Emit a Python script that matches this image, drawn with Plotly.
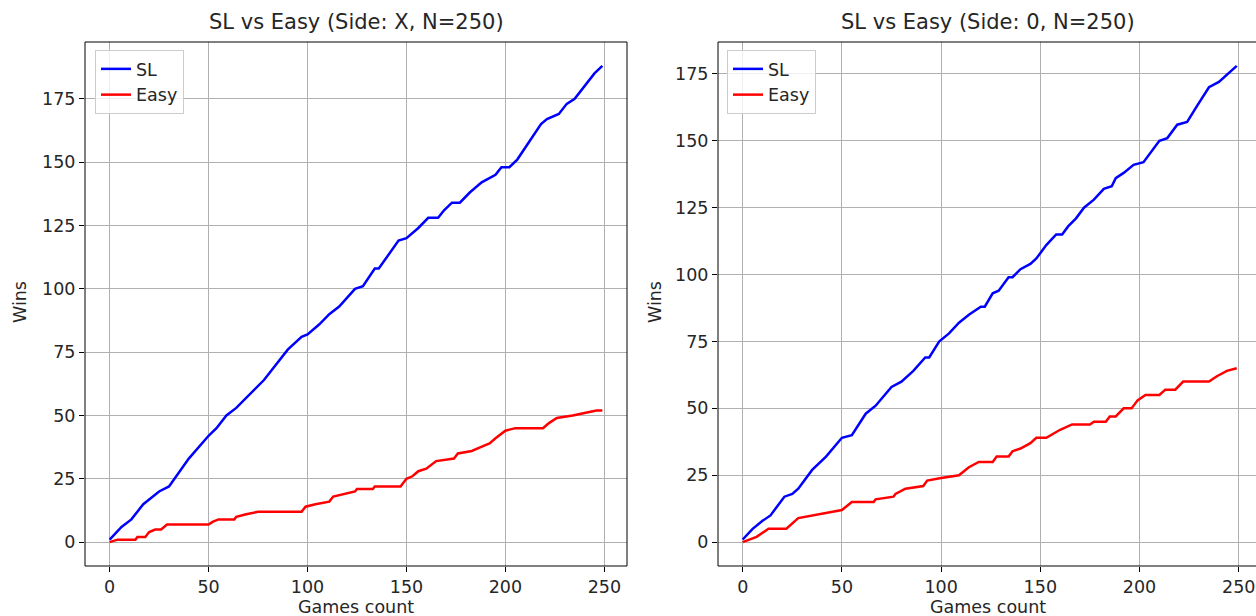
import plotly.graph_objects as go

# ---- data (game index, cumulative wins) ----
x_sl_games = [0, 6, 11, 17, 25, 30, 40, 50, 54, 59, 64, 69, 74, 78, 90, 97, 100, 106, 111, 116, 124, 128,
              134, 136, 146, 150, 156, 161, 166, 169, 173, 177, 182, 188, 195, 198, 202, 206, 218, 221,
              227, 231, 235, 239, 245, 249]
x_sl_wins = [1, 6, 9, 15, 20, 22, 33, 42, 45, 50, 53, 57, 61, 64, 76, 81, 82, 86, 90, 93, 100, 101,
             108, 108, 119, 120, 124, 128, 128, 131, 134, 134, 138, 142, 145, 148, 148, 151, 165, 167,
             169, 173, 175, 179, 185, 188]

x_easy_games = [0, 4, 13, 14, 18, 20, 23, 26, 29, 50, 52, 55, 63, 64, 69, 75, 97, 99, 104, 111, 113, 119,
                124, 125, 133, 134, 147, 150, 153, 156, 160, 165, 174, 176, 183, 189, 192, 195, 200, 205,
                219, 222, 226, 234, 241, 246, 249]
x_easy_wins = [0, 1, 1, 2, 2, 4, 5, 5, 7, 7, 8, 9, 9, 10, 11, 12, 12, 14, 15, 16, 18, 19,
               20, 21, 21, 22, 22, 25, 26, 28, 29, 32, 33, 35, 36, 38, 39, 41, 44, 45,
               45, 47, 49, 50, 51, 52, 52]

o_sl_games = [0, 5, 10, 14, 21, 25, 28, 35, 42, 50, 55, 62, 67, 75, 80, 86, 92, 94, 99, 104, 109, 114,
              120, 122, 126, 129, 134, 136, 140, 145, 148, 153, 158, 161, 164, 168, 172, 177, 182, 186,
              188, 192, 197, 202, 210, 214, 219, 224, 229, 235, 240, 243, 246, 249]
o_sl_wins = [1, 5, 8, 10, 17, 18, 20, 27, 32, 39, 40, 48, 51, 58, 60, 64, 69, 69, 75, 78, 82, 85,
             88, 88, 93, 94, 99, 99, 102, 104, 106, 111, 115, 115, 118, 121, 125, 128, 132, 133,
             136, 138, 141, 142, 150, 151, 156, 157, 163, 170, 172, 174, 176, 178]

o_easy_games = [0, 7, 13, 22, 28, 36, 42, 50, 55, 66, 67, 76, 77, 82, 91, 93, 100, 109, 114, 119, 126, 128,
                134, 136, 140, 145, 148, 153, 160, 166, 175, 177, 183, 185, 188, 192, 196, 199, 203, 210,
                213, 218, 222, 235, 239, 244, 249]
o_easy_wins = [0, 2, 5, 5, 9, 10, 11, 12, 15, 15, 16, 17, 18, 20, 21, 23, 24, 25, 28, 30, 30, 32,
               32, 34, 35, 37, 39, 39, 42, 44, 44, 45, 45, 47, 47, 50, 50, 53, 55, 55,
               57, 57, 60, 60, 62, 64, 65]

titles = ["SL vs Easy (Side: X, N=250)", "SL vs Easy (Side: 0, N=250)"]
x_tickvals = [0, 50, 100, 150, 200, 250]
y_tickvals = [0, 25, 50, 75, 100, 125, 150, 175]

W, H = 1256, 616
FONT = "DejaVu Sans"
TXT = "#262626"
FS = 17.5

def px_x(p):
    return p / W

def px_y(p):
    return (H - p) / H

fig = go.Figure()

line_w = 2.5
fig.add_trace(go.Scatter(x=x_sl_games, y=x_sl_wins, mode="lines", name="SL",
                         line=dict(color="#0000ff", width=line_w), xaxis="x", yaxis="y", legend="legend"))
fig.add_trace(go.Scatter(x=x_easy_games, y=x_easy_wins, mode="lines", name="Easy",
                         line=dict(color="#ff0000", width=line_w), xaxis="x", yaxis="y", legend="legend"))
fig.add_trace(go.Scatter(x=o_sl_games, y=o_sl_wins, mode="lines", name="SL",
                         line=dict(color="#0000ff", width=line_w), xaxis="x2", yaxis="y2", legend="legend2"))
fig.add_trace(go.Scatter(x=o_easy_games, y=o_easy_wins, mode="lines", name="Easy",
                         line=dict(color="#ff0000", width=line_w), xaxis="x2", yaxis="y2", legend="legend2"))

axis_common = dict(showgrid=True, gridcolor="#b0b0b0", gridwidth=1, zeroline=False,
                   ticks="outside", ticklen=5, tickwidth=1, tickcolor="black",
                   tickfont=dict(family=FONT, size=FS, color=TXT),
                   showline=False, automargin=False)

y_dom = [px_y(566), px_y(42)]

legend_common = dict(xanchor="left", yanchor="top",
                     bgcolor="rgba(255,255,255,0.8)", bordercolor="#cccccc", borderwidth=1,
                     font=dict(family=FONT, size=FS, color=TXT), tracegroupgap=0, itemwidth=30)

fig.update_layout(
    width=W, height=H,
    margin=dict(l=0, r=0, t=0, b=0),
    paper_bgcolor="white", plot_bgcolor="white",
    font=dict(family=FONT, color=TXT),
    xaxis=dict(domain=[px_x(85), px_x(627)], range=[-12.45, 261.45], tickvals=x_tickvals,
               anchor="y", **axis_common),
    yaxis=dict(domain=y_dom, range=[-9.4, 197.4], tickvals=y_tickvals, anchor="x", **axis_common),
    xaxis2=dict(domain=[px_x(718), 1.0], range=[-12.45, 258.7], tickvals=x_tickvals,
                anchor="y2", **axis_common),
    yaxis2=dict(domain=y_dom, range=[-8.9, 186.9], tickvals=y_tickvals, anchor="x2", **axis_common),
    legend=dict(x=px_x(95), y=px_y(50), **legend_common),
    legend2=dict(x=px_x(727), y=px_y(50), **legend_common),
    showlegend=True,
)

# axes frames (right frame of 2nd subplot runs off the page like the reference)
for xr, yr, x1 in [("x domain", "y domain", 1.0), ("x2 domain", "y2 domain", 1.01)]:
    fig.add_shape(type="rect", xref=xr, yref=yr, x0=0, x1=x1, y0=0, y1=1,
                  line=dict(color="black", width=1), fillcolor="rgba(0,0,0,0)", layer="above")

# titles
for cx, t in zip((356, 988), titles):
    fig.add_annotation(text=t, x=px_x(cx), y=px_y(22), xref="paper", yref="paper",
                       showarrow=False, xanchor="center", yanchor="middle",
                       font=dict(family=FONT, size=21, color=TXT))

# axis labels
for cx in (356, 988):
    fig.add_annotation(text="Games count", x=px_x(cx), y=px_y(607), xref="paper", yref="paper",
                       showarrow=False, xanchor="center", yanchor="middle",
                       font=dict(family=FONT, size=FS, color=TXT))
for cx in (20, 655):
    fig.add_annotation(text="Wins", x=px_x(cx), y=px_y(302), xref="paper", yref="paper",
                       showarrow=False, xanchor="center", yanchor="middle", textangle=-90,
                       font=dict(family=FONT, size=FS, color=TXT))

fig.write_html("out.html", config={"displayModeBar": False},
               post_script="document.body.style.margin='0px';document.body.style.overflow='hidden';")
